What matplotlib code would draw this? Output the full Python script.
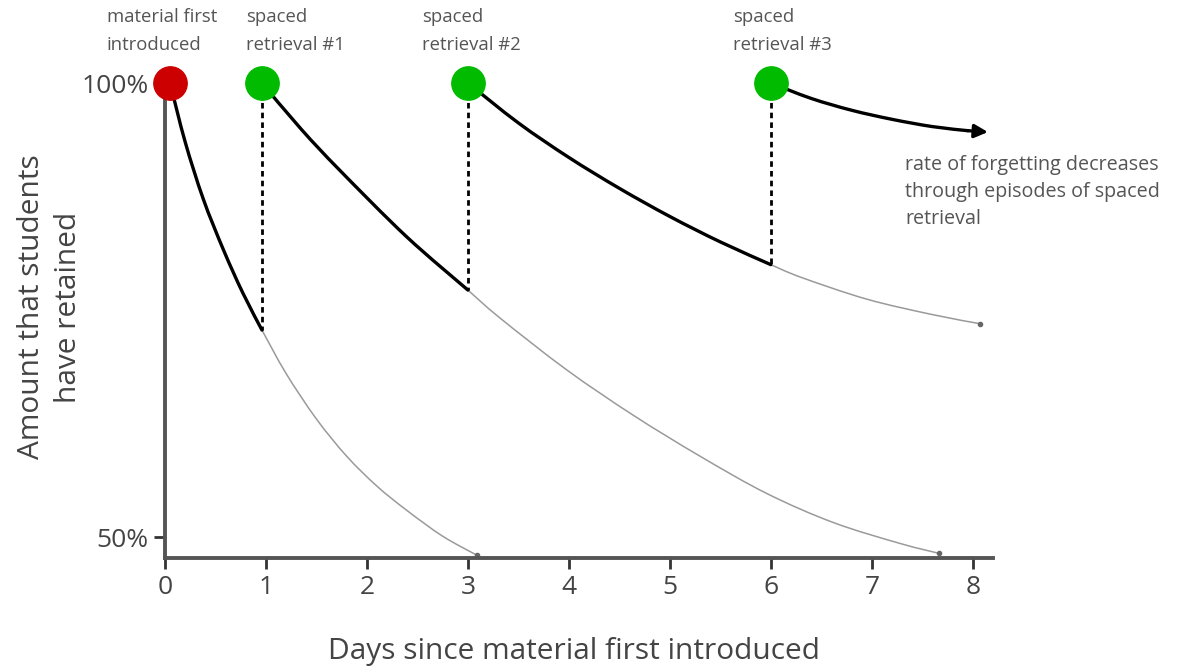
import matplotlib
matplotlib.use("Agg")
import matplotlib.pyplot as plt
from matplotlib.path import Path
from matplotlib.patches import PathPatch

# ---- data ----
event_days = [0.05, 0.96, 3.0, 6.0]
event_colors = ["#cc0000", "#00bb00", "#00bb00", "#00bb00"]
event_labels = ["material first\nintroduced", "spaced\nretrieval #1",
                "spaced\nretrieval #2", "spaced\nretrieval #3"]

c1_bold_x = [0.05, 0.2, 0.38, 0.58, 0.77, 0.96]
c1_bold_y = [100, 93.5, 87.2, 81.6, 76.9, 72.8]
c1_thin_x = [0.96, 1.2, 1.5, 1.8, 2.1, 2.4, 2.75, 3.09]
c1_thin_y = [72.8, 68.0, 63.0, 58.9, 55.6, 52.9, 50.1, 48.0]

c2_bold_x = [0.96, 1.35, 1.73, 2.39, 3.0]
c2_bold_y = [100, 94.9, 90.4, 83.1, 77.2]
c2_thin_x = [3.0, 3.32, 3.98, 4.64, 5.30, 5.96, 6.62, 7.28, 7.67]
c2_thin_y = [77.2, 74.1, 68.4, 63.4, 58.9, 54.8, 51.6, 49.3, 48.2]

c3_bold_x = [3.0, 3.5, 4.0, 4.5, 5.0, 5.5, 6.0]
c3_bold_y = [100, 95.6, 91.8, 88.4, 85.3, 82.5, 80.0]
c3_thin_x = [6.0, 6.3, 6.95, 7.6, 8.07]
c3_thin_y = [80.0, 78.6, 76.2, 74.5, 73.5]

c4_x = [6.0, 6.4, 6.8, 7.2, 7.6, 7.95, 8.15]
c4_y = [100, 98.3, 97.0, 96.0, 95.2, 94.75, 94.6]

x_ticks = [0, 1, 2, 3, 4, 5, 6, 7, 8]
y_ticks = [50, 100]
y_tick_labels = ["50%", "100%"]

FONT = ["Open Sans", "DejaVu Sans"]
plt.rcParams["font.family"] = FONT
TXT = "#444444"

fig = plt.figure(figsize=(11.89, 6.72), dpi=100)
ax = fig.add_axes([165/1189, 1-558/672, (993-165)/1189, (558-83)/672])
ax.set_xlim(0, 8.2)
ax.set_ylim(47.7, 100)


def smooth_path(xs, ys):
    """Catmull-Rom style Bezier path passing through the read points."""
    pts = list(zip(xs, ys))
    verts = [pts[0]]
    codes = [Path.MOVETO]
    n = len(pts)
    for i in range(n - 1):
        p0 = pts[i - 1] if i > 0 else pts[i]
        p1 = pts[i]
        p2 = pts[i + 1]
        p3 = pts[i + 2] if i + 2 < n else pts[i + 1]
        c1 = (p1[0] + (p2[0] - p0[0]) / 6, p1[1] + (p2[1] - p0[1]) / 6)
        c2 = (p2[0] - (p3[0] - p1[0]) / 6, p2[1] - (p3[1] - p1[1]) / 6)
        verts += [c1, c2, p2]
        codes += [Path.CURVE4] * 3
    return Path(verts, codes)


def draw_curve(xs, ys, color, lw):
    patch = PathPatch(smooth_path(xs, ys), fill=False, edgecolor=color, lw=lw,
                      capstyle="round", joinstyle="round", clip_on=False)
    ax.add_patch(patch)


for s in ["top", "right"]:
    ax.spines[s].set_visible(False)
for s in ["left", "bottom"]:
    ax.spines[s].set_linewidth(2.8)
    ax.spines[s].set_color("#555555")

ax.set_xticks(x_ticks)
ax.set_xticklabels([str(t) for t in x_ticks])
ax.set_yticks(y_ticks)
ax.set_yticklabels(y_tick_labels)
ax.tick_params(axis="both", length=8, width=2, color="#333333",
               labelsize=19, labelcolor=TXT, pad=4)

# thin continuation curves
for xs, ys in [(c1_thin_x, c1_thin_y), (c2_thin_x, c2_thin_y), (c3_thin_x, c3_thin_y)]:
    draw_curve(xs, ys, "#9a9a9a", 1.1)
    ax.plot(xs[-1], ys[-1], marker="o", ms=3, color="#666666", clip_on=False)

# bold curves
for xs, ys in [(c1_bold_x, c1_bold_y), (c2_bold_x, c2_bold_y), (c3_bold_x, c3_bold_y)]:
    draw_curve(xs, ys, "black", 2.4)

# final curve with arrow
draw_curve(c4_x[:-1], c4_y[:-1], "black", 2.4)
ax.annotate("", xy=(c4_x[-1], c4_y[-1]), xytext=(c4_x[-2], c4_y[-2]),
            arrowprops=dict(arrowstyle="-|>", color="black", lw=2.4,
                            mutation_scale=20, shrinkA=0, shrinkB=0),
            annotation_clip=False)

# dashed retrieval lines
for xd, yb in zip(event_days[1:], [c1_bold_y[-1], c2_bold_y[-1], c3_bold_y[-1]]):
    ax.plot([xd, xd], [100, yb], color="black", lw=2, ls=(0, (2, 1.5)), clip_on=False)

# event dots
for xd, col in zip(event_days, event_colors):
    ax.plot(xd, 100, marker="o", ms=24, color=col, mec=col, clip_on=False, zorder=5)

# event labels
label_px = [107, 246, 422, 733]
for lx, lab in zip(label_px, event_labels):
    fig.text(lx/1189, 1-8/672, lab, ha="left", va="top", fontsize=13.3,
             color="#555555", linespacing=1.7)

fig.text(905/1189, 1-155/672,
         "rate of forgetting decreases\nthrough episodes of spaced\nretrieval",
         ha="left", va="top", fontsize=14.2, color="#555555", linespacing=1.45)

fig.text(574/1189, 1-652/672, "Days since material first introduced",
         ha="center", va="center", fontsize=21.5, color=TXT)
fig.text(50/1189, 1-307/672, "Amount that students\nhave retained",
         ha="center", va="center", fontsize=21.5, color=TXT, rotation=90,
         linespacing=1.4)

fig.savefig("out.png", dpi=100)
